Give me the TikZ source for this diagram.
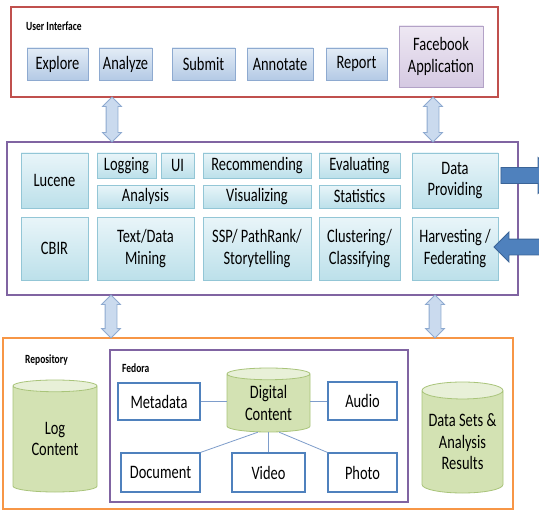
\documentclass[tikz,border=0pt]{standalone}
\usepackage{fontspec}
\setmainfont{Carlito}[FakeStretch=0.76]
\usepackage{xcolor}
\usetikzlibrary{shapes.geometric,shapes.arrows}
\definecolor{uired}{HTML}{C0504D}
\definecolor{midpurple}{HTML}{8064A2}
\definecolor{repoorange}{HTML}{F79646}
\definecolor{uitop}{HTML}{E3ECF6}
\definecolor{uibot}{HTML}{B4CAE5}
\definecolor{uiline}{HTML}{8EAAD0}
\definecolor{fbtop}{HTML}{EEE8F3}
\definecolor{fbbot}{HTML}{D5C9E2}
\definecolor{fbline}{HTML}{B3A2C7}
\definecolor{svtop}{HTML}{E9F5F9}
\definecolor{svbot}{HTML}{BCE0EA}
\definecolor{svline}{HTML}{93C6D6}
\definecolor{dbbody}{HTML}{D3E2B3}
\definecolor{dbend}{HTML}{E8F0D8}
\definecolor{dbline}{HTML}{A9C47A}
\definecolor{objline}{HTML}{4F81BD}
\definecolor{linkline}{HTML}{7E9DCB}
\definecolor{updownfill}{HTML}{CADAEE}
\definecolor{bigarrow}{HTML}{4F81BD}
\definecolor{bigarrowline}{HTML}{3B6497}

\begin{document}
\begin{tikzpicture}[x=1pt,y=-1pt]
		\tikzstyle{every node}+=[inner sep=0pt, font=\fontsize{19}{21.5}\selectfont]
		\tikzstyle{frame}=[draw, line width=1.4pt, fill=white]
		\tikzstyle{title}=[anchor=west, font=\fontsize{12.5}{14}\selectfont\bfseries]
		\tikzstyle{uibox}=[draw=uiline, line width=0.8pt, top color=uitop, bottom color=uibot, minimum height=32pt]
		\tikzstyle{fbbox}=[draw=fbline, line width=0.8pt, top color=fbtop, bottom color=fbbot, align=center]
		\tikzstyle{svbox}=[draw=svline, line width=0.8pt, top color=svtop, bottom color=svbot, align=center]
		\tikzstyle{objbox}=[draw=objline, line width=1.2pt, fill=white]
		\tikzstyle{db}=[cylinder, shape border rotate=90, aspect=0.25, draw=dbline, line width=0.8pt, cylinder uses custom fill, cylinder body fill=dbbody, cylinder end fill=dbend, align=center, anchor=shape center]
		\tikzstyle{updown}=[double arrow, rotate=90, inner ysep=5.5pt, double arrow head extend=3.5pt, double arrow head indent=0pt, minimum width=18pt, draw=uiline, line width=0.8pt, fill=updownfill]
		\tikzstyle{feed}=[single arrow, inner ysep=7.5pt, single arrow head indent=0pt, draw=bigarrowline, line width=0.8pt, fill=bigarrow]
		\tikzstyle{link}=[draw=linkline, line width=0.8pt]
		\clip (0,0) rectangle (539,511);
		% frames
		\node [frame, draw=uired, minimum width=487pt, minimum height=90pt] (uiframe) at (254.5,52) {};
		\node [frame, draw=midpurple, minimum width=511pt, minimum height=153pt] (svframe) at (262.5,218.5) {};
		\node [frame, draw=repoorange, minimum width=510pt, minimum height=171pt] (repoframe) at (258,423.5) {};
		\node [frame, draw=midpurple, line width=1.2pt, minimum width=298pt, minimum height=152pt] (fedframe) at (259,426) {};
		\node [title] (uititle) at (26,26) {User Interface};
		\node [title] (repotitle) at (25,360) {Repository};
		\node [title] (fedtitle) at (122,368) {Fedora};
		% user interface
		\node [uibox, minimum width=61pt] (explore) at (57.5,64) {Explore};
		\node [uibox, minimum width=53pt] (analyze) at (125.5,64) {Analyze};
		\node [uibox, minimum width=63pt] (submit) at (203.5,64) {Submit};
		\node [uibox, minimum width=66pt] (annotate) at (280,64) {Annotate};
		\node [uibox, minimum width=61pt] (report) at (356.5,64) {Report};
		\node [fbbox, minimum width=84pt, minimum height=61pt] (facebook) at (441,56.5) {Facebook\\Application};
		% services
		\node [svbox, minimum width=67pt, minimum height=55pt] (lucene) at (54.5,180.5) {Lucene};
		\node [svbox, minimum width=67pt, minimum height=63pt] (cbir) at (54.5,248.5) {CBIR};
		\node [svbox, minimum width=59pt, minimum height=25pt] (logging) at (126.5,165.5) {Logging};
		\node [svbox, minimum width=33pt, minimum height=25pt] (uilog) at (177.5,165.5) {UI};
		\node [svbox, minimum width=97pt, minimum height=23pt] (analysis) at (145.5,196.5) {Analysis};
		\node [svbox, minimum width=97pt, minimum height=63pt] (mining) at (145.5,248.5) {Text/Data\\Mining};
		\node [svbox, minimum width=108pt, minimum height=25pt] (recommend) at (257,165.5) {Recommending};
		\node [svbox, minimum width=108pt, minimum height=23pt] (visualize) at (257,196.5) {Visualizing};
		\node [svbox, minimum width=108pt, minimum height=63pt] (ssp) at (257,248.5) {SSP/ PathRank/\\Storytelling};
		\node [svbox, minimum width=81pt, minimum height=25pt] (evaluate) at (359.5,165.5) {Evaluating};
		\node [svbox, minimum width=81pt, minimum height=23pt] (stats) at (359.5,196.5) {Statistics};
		\node [svbox, minimum width=81pt, minimum height=63pt] (cluster) at (359.5,248.5) {Clustering/\\Classifying};
		\node [svbox, minimum width=86pt, minimum height=55pt] (provide) at (455,180.5) {Data\\Providing};
		\node [svbox, minimum width=86pt, minimum height=63pt] (harvest) at (455,248.5) {Harvesting /\\Federating};
		% repository
		\node [db, minimum width=84pt, minimum height=112pt] (logdb) at (55,436) {Log\\Content};
		\node [db, minimum width=81pt, minimum height=111pt] (datadb) at (462.5,437.5) {Data Sets \&\\Analysis\\Results};
		\node [db, minimum width=83pt, minimum height=64pt] (digital) at (268.5,400) {Digital\\Content};
		\node [objbox, minimum width=82pt, minimum height=37pt] (meta) at (159,401.5) {Metadata};
		\node [objbox, minimum width=69pt, minimum height=38pt] (audio) at (362.5,401) {Audio};
		\node [objbox, minimum width=79pt, minimum height=39pt] (doc) at (160.5,472.5) {Document};
		\node [objbox, minimum width=73pt, minimum height=39pt] (video) at (268.5,472.5) {Video};
		\node [objbox, minimum width=69pt, minimum height=39pt] (photo) at (362.5,472.5) {Photo};
		\draw [link] (meta) -- (meta -| digital.west);
		\draw [link] (audio) -- (audio -| digital.east);
		\draw [link] (digital.south) -- (video);
		\draw [link] (digital.250) -- (doc.north east);
		\draw [link] (digital.290) -- (photo.north west);
		% arrows between layers
		\node [updown, minimum height=45pt] (upleft) at (112,119.5) {};
		\node [updown, minimum height=45pt] (upright) at (433,119.5) {};
		\node [updown, minimum height=43pt] (downleft) at (111,316.5) {};
		\node [updown, minimum height=43pt] (downright) at (435,316.5) {};
		\node [feed, minimum height=55pt, minimum width=35pt, single arrow head extend=10pt] (provideout) at (524.5,175.5) {};
		\node [feed, minimum height=60pt, minimum width=29pt, single arrow head extend=7pt, rotate=180] (harvestin) at (528,247) {};
\end{tikzpicture}
\end{document}
